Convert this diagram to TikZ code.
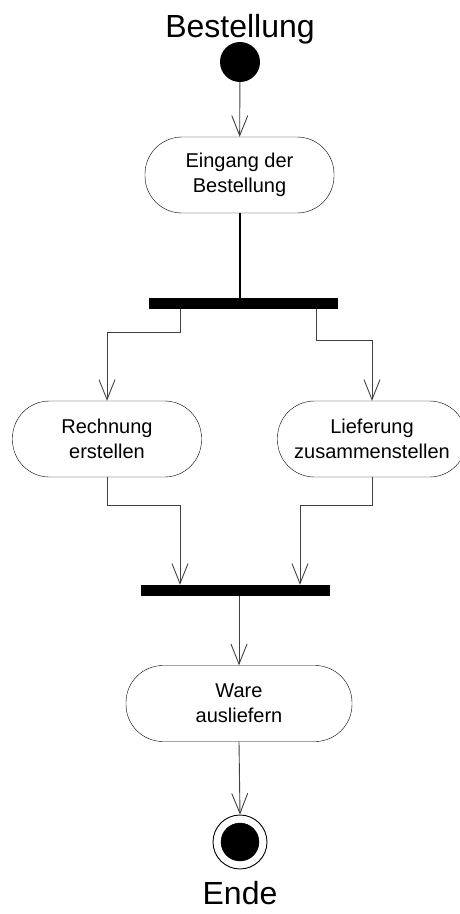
\documentclass[tikz,border=0pt]{standalone}
\usepackage{fontspec}
\setmainfont{Liberation Sans}
\usepackage{tikz}
\usetikzlibrary{arrows.meta, positioning, shapes}

\tikzset{
	activity/.style={draw, rounded corners=37pt, minimum width=189pt, minimum height=76pt, align=center, font=\fontsize{20}{25}\selectfont, inner sep=0pt},
	syncbar/.style={fill=black, minimum width=189pt, minimum height=11pt, inner sep=0pt},
	flow/.style={draw=black!75, line width=0.9pt, -{Straight Barb[length=20pt, width=16pt, line width=0.9pt]}},
	biglabel/.style={font=\fontsize{32}{36}\selectfont, inner sep=0pt}
}

\begin{document}
\begin{tikzpicture}[x=1pt, y=1pt]
		\useasboundingbox (0,0) rectangle (460,-914);
			%start and end
			\node[circle, fill=black, minimum size=40pt, inner sep=0pt] (start) at (240,-62) {};
			\node[biglabel, anchor=base] (bestellung) at (240,-37) {Bestellung};

			\node[activity] (eingang) at (239.5,-175) {Eingang der\\Bestellung};
			\node[syncbar] (fork) at (243.5,-303.5) {};
			\node[activity] (rechnung) at (107,-439) {Rechnung\\erstellen};
			\node[activity] (lieferung) at (372,-439) {Lieferung\\zusammenstellen};
			\node[syncbar] (join) at (235.5,-590.5) {};
			\node[activity, minimum width=226pt] (ware) at (239,-703.5) {Ware\\ausliefern};

			\node[circle, draw, line width=0.9pt, minimum size=54pt, inner sep=0pt] (ende) at (240,-842) {};
			\filldraw (ende.center) circle (19pt);
			\node[biglabel, anchor=base] (endelabel) at (240,-904) {Ende};

			%transitions
			\draw[flow] (start) -- (eingang);
			\draw[black, line width=2pt] (eingang.south) -- (eingang.south |- fork.north);

			\draw[flow] ([xshift=-63.5pt]fork.south) -- ++(0,-23) -| (rechnung.north);
			\draw[flow] ([xshift=72.5pt]fork.south) -- ++(0,-31) -| (lieferung.north);

			\draw[flow] (rechnung.south) -- ++(0,-28) -| ([xshift=-55.5pt]join.north);
			\draw[flow] (lieferung.south) -- ++(0,-28) -| ([xshift=64.5pt]join.north);

			\draw[flow] (join.south -| ware.north) -- (ware.north);
			\draw[flow] (ware.south) -- (ende.north);
	\end{tikzpicture}
\end{document}
